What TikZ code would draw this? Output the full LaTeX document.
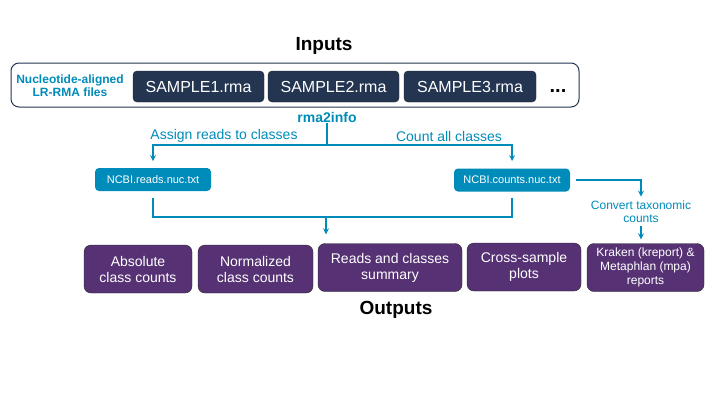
\documentclass[tikz,border=0pt]{standalone}
\usepackage{fontspec}
\setmainfont{Liberation Sans}
\usepackage{tikz}
\usetikzlibrary{arrows}
\usetikzlibrary{shapes,positioning}
\definecolor{flowteal}{RGB}{0,140,186}
\definecolor{filenavy}{RGB}{36,53,82}
\definecolor{outpurple}{RGB}{86,50,116}
\tikzset{>=stealth,
  rmafile/.style={draw=black!85, fill=filenavy, rounded corners=4pt, text=white,
    font=\fontsize{16}{18}\selectfont, minimum height=31pt, inner sep=0pt},
  ncbifile/.style={fill=flowteal, rounded corners=4pt, text=white,
    font=\fontsize{11}{13}\selectfont, minimum width=116pt, minimum height=23pt, inner sep=0pt},
  outbox/.style={draw=black!85, fill=outpurple, rounded corners=7pt, text=white, align=center,
    font=\fontsize{14}{16}\selectfont, minimum height=48pt, inner sep=0pt},
  flow/.style={draw=flowteal, line width=1.6pt},
  tealtext/.style={text=flowteal, align=center},
  heading/.style={font=\bfseries\fontsize{19}{21}\selectfont}}

\begin{document}
\begin{tikzpicture}[x=1pt,y=-1pt]

    \useasboundingbox [fill=white] (0,0) rectangle (720,405);

    % inputs
    \node [heading] (inputs) at (324,46) {Inputs};
    \node [draw=filenavy, line width=1pt, rounded corners=8pt, minimum width=568pt, minimum height=44pt] (inbox) at (295,85) {};
    \node [tealtext, font=\bfseries\fontsize{12}{13}\selectfont] (aligned) at (70,86) {Nucleotide-aligned\\LR-RMA files};
    \node [rmafile, minimum width=131pt] (sample1) at (198.5,86.5) {SAMPLE1.rma};
    \node [rmafile, minimum width=131pt] (sample2) at (333.5,86.5) {SAMPLE2.rma};
    \node [rmafile, minimum width=132pt] (sample3) at (470,86.5) {SAMPLE3.rma};
    \node [font=\bfseries\fontsize{20}{22}\selectfont] (more) at (558,91) {...};

    % rma2info
    \node [tealtext, font=\bfseries\fontsize{14}{16}\selectfont, inner sep=1pt] (info) at (327,117) {rma2info};
    \coordinate (split) at (327,145);
    \draw [flow] (info) -- (split);
    \draw [flow, ->, shorten >=7pt] (split) -| (153,168);
    \draw [flow, ->, shorten >=7pt] (split) -| (512,168);
    \node [tealtext, font=\fontsize{14}{16}\selectfont] (assign) at (224,136) {Assign reads to classes};
    \node [tealtext, font=\fontsize{14}{16}\selectfont] (count) at (449,136) {Count all classes};

    \node [ncbifile] (reads) at (153,179.5) {NCBI.reads.nuc.txt};
    \node [ncbifile] (counts) at (512,180) {NCBI.counts.nuc.txt};

    % merge into outputs
    \coordinate (join) at (326,217);
    \draw [flow, shorten <=7pt] (reads) |- (join);
    \draw [flow, shorten <=6pt] (counts) |- (join);

    \node [tealtext, font=\fontsize{12}{13}\selectfont] (convert) at (641,212) {Convert taxonomic\\counts};
    \draw [flow, ->, shorten <=6pt, shorten >=1pt] (counts) -| (convert);

    % outputs
    \node [outbox, minimum width=108pt] (absolute) at (138,269) {Absolute\\class counts};
    \node [outbox, minimum width=115pt] (normalized) at (255.5,269) {Normalized\\class counts};
    \node [outbox, minimum width=144pt] (summary) at (390,267.5) {Reads and classes\\summary};
    \node [outbox, minimum width=114pt] (cross) at (524,267) {Cross-sample\\plots};
    \node [outbox, minimum width=117pt, font=\fontsize{12}{14}\selectfont] (kraken) at (645.5,267.5) {Kraken (kreport) \&\\Metaphlan (mpa)\\reports};

    \draw [flow, ->, shorten >=9pt] (join) -- (join |- summary.north);
    \draw [flow, ->, shorten >=4pt] (convert) -- (convert |- kraken.north);

    \node [heading] (outputs) at (396,310) {Outputs};

\end{tikzpicture}
\end{document}
